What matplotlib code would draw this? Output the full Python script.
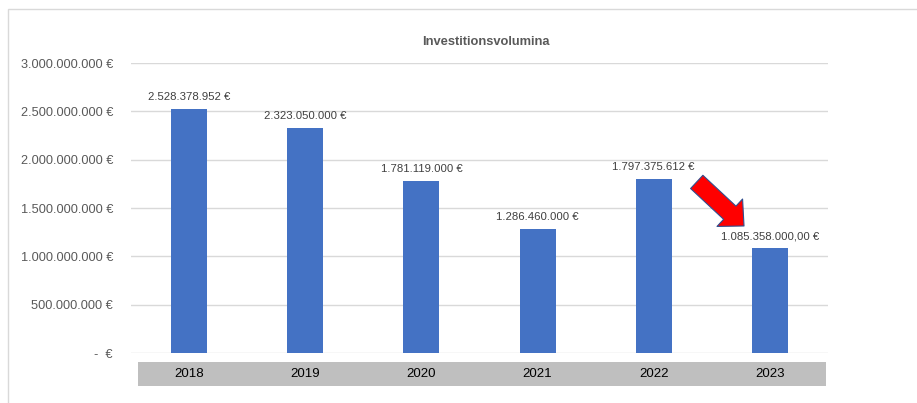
import matplotlib
matplotlib.use("Agg")
import matplotlib.pyplot as plt
from matplotlib.patches import Rectangle

years = ["2018", "2019", "2020", "2021", "2022", "2023"]
values = [2528378952, 2323050000, 1781119000, 1286460000, 1797375612, 1085358000]
value_labels = ["2.528.378.952 €", "2.323.050.000 €", "1.781.119.000 €",
                "1.286.460.000 €", "1.797.375.612 €", "1.085.358.000,00 €"]
yticks = [0, 500000000, 1000000000, 1500000000, 2000000000, 2500000000, 3000000000]
ytick_labels = ["-  €", "500.000.000 €", "1.000.000.000 €", "1.500.000.000 €",
                "2.000.000.000 €", "2.500.000.000 €", "3.000.000.000 €"]
title = "Investitionsvolumina"

plt.rcParams['font.family'] = ['Liberation Sans', 'DejaVu Sans']

W, H = 917, 403
fig = plt.figure(figsize=(W / 100, H / 100), dpi=100)
fig.patch.set_facecolor("white")

# chart area border
fig.add_artist(Rectangle((8 / W, -0.5), 1.2, 1.5 - 9 / H, transform=fig.transFigure,
                         fill=False, edgecolor="#D9D9D9", linewidth=1))

ax = fig.add_axes([131 / W, 1 - 353 / H, (828 - 131) / W, (353 - 63) / H])
x = list(range(len(years)))
ax.bar(x, values, width=0.31, color="#4472C4", zorder=3)
ax.set_xlim(-0.5, len(years) - 0.5)
ax.set_ylim(0, 3000000000)
ax.set_yticks(yticks)
ax.set_yticklabels(ytick_labels, fontsize=9.2, color="#595959")
ax.tick_params(axis="y", length=0, pad=13)
ax.set_xticks([])
ax.grid(axis="y", color="#D9D9D9", linewidth=1, zorder=0)
for s in ax.spines.values():
    s.set_visible(False)

for xi, v, lab in zip(x, values, value_labels):
    ax.annotate(lab, (xi, v), xytext=(0, 5), textcoords="offset points",
                ha="center", va="bottom", fontsize=8.2, color="#404040")

# category band
band_bottom = -(386 - 353) / (353 - 63)
band_h = (386 - 362) / (353 - 63)
ax.add_patch(Rectangle(((138 - 131) / (828 - 131), band_bottom), (826 - 138) / (828 - 131), band_h,
                       transform=ax.transAxes, facecolor="#BFBFBF", edgecolor="none",
                       clip_on=False, zorder=1))
for xi, yr in zip(x, years):
    ax.text(xi, band_bottom + band_h / 2, yr, transform=ax.get_xaxis_transform(),
            ha="center", va="center", fontsize=9.5, color="#000000", zorder=2)

fig.text(486 / W, 1 - 42 / H, title, fontsize=9.3, fontweight="bold", color="#595959",
         ha="center", va="center")

# red arrow annotation
ax.annotate("", xy=(4.777, 1314000000), xytext=(4.37, 1770000000),
            arrowprops=dict(arrowstyle="simple,head_length=0.7,head_width=1.35,tail_width=0.65",
                            mutation_scale=20, facecolor="#FF0000", edgecolor="#2F4F8F",
                            linewidth=0.8, shrinkA=0, shrinkB=0))

fig.savefig("out.png", dpi=100)
